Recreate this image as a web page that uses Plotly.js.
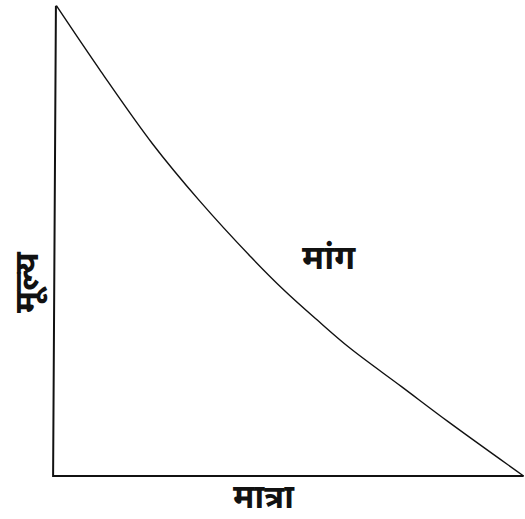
<!DOCTYPE html>
<html>
<head>
<meta charset="utf-8">
<script src="https://cdn.plot.ly/plotly-3.0.1.min.js"></script>
<style>
  html, body { margin: 0; padding: 0; background: #fff; }
  #grafico { width: 525px; height: 519px; }
</style>
</head>
<body>
<div id="grafico"></div>
<script>
// Curva de demanda (cantidad vs precio)
const cantidad = [0.5, 10, 21, 31, 42, 49, 56, 63, 74, 84, 100];
const precio = [100, 86, 70.6, 58.5, 46.5, 39.5, 33.2, 27.2, 19, 11.5, 0];

// Ejes dibujados a mano (el vertical está algo inclinado)
const ejeX = [0.4, -0.2, 100];
const ejeY = [100, 0, 0];

const etiquetaX = 'मात्रा';
const etiquetaY = 'मूल्य';
const etiquetaCurva = 'मांग';

function graficar() {
    const fuente = 'Noto Sans, "Noto Sans Devanagari", sans-serif';

    const ejes = {
        x: ejeX,
        y: ejeY,
        type: 'scatter',
        mode: 'lines',
        line: {color: '#111', width: 2},
        hoverinfo: 'skip'
    };

    const demanda = {
        x: cantidad,
        y: precio,
        type: 'scatter',
        mode: 'lines',
        line: {color: '#111', width: 1.4, shape: 'spline', smoothing: 1},
        name: etiquetaCurva
    };

    const layout = {
        width: 525,
        height: 519,
        margin: {l: 47, r: 0, t: 1, b: 36},
        paper_bgcolor: '#fff',
        plot_bgcolor: '#fff',
        showlegend: false,
        xaxis: {range: [-1.5, 100.3], visible: false, fixedrange: true},
        yaxis: {range: [-1.5, 101], visible: false, fixedrange: true},
        annotations: [
            {
                text: '<b>' + etiquetaX + '</b>', xref: 'paper', yref: 'paper',
                x: 0.454, y: -0.0747, xanchor: 'center', yanchor: 'bottom', borderpad: 0,
                showarrow: false,
                font: {family: fuente, size: 33, color: '#111'}
            },
            {
                text: '<b>' + etiquetaY + '</b>', xref: 'paper', yref: 'paper',
                x: -0.046, y: 0.417, xanchor: 'center', yanchor: 'middle', showarrow: false, textangle: -90,
                font: {family: fuente, size: 34, color: '#111'}
            },
            {
                text: '<b>' + etiquetaCurva + '</b>', xref: 'x', yref: 'y',
                x: 58.5, y: 46.8, xanchor: 'center', yanchor: 'middle', showarrow: false,
                font: {family: fuente, size: 34, color: '#111'}
            }
        ]
    };

    Plotly.newPlot('grafico', [ejes, demanda], layout, {displayModeBar: false, staticPlot: true});
}

window.onload = graficar;
</script>
</body>
</html>
